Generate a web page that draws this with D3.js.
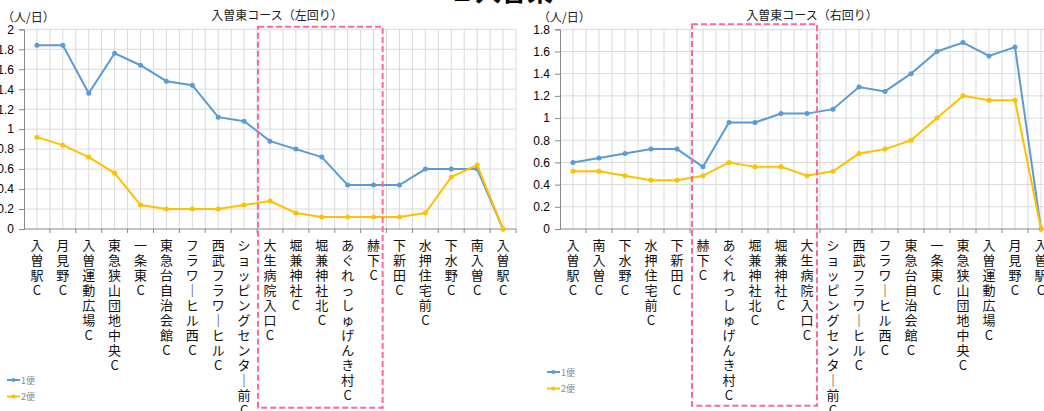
<!DOCTYPE html>
<html>
<head>
<meta charset="utf-8">
<script src="https://cdn.jsdelivr.net/npm/d3@7"></script>
<style>
  body { margin: 0; background: #fff; }
  svg { display: block; font-family: "Liberation Sans", "Noto Sans CJK JP", sans-serif; }
</style>
</head>
<body>
<script>
  // data (人/日)
  var leftStops = ["入曽駅C", "月見野C", "入曽運動広場C", "東急狭山団地中央C", "一条東C", "東急台自治会館C",
    "フラワーヒル西C", "西武フラワーヒルC", "ショッピングセンター前C", "大生病院入口C", "堀兼神社C",
    "堀兼神社北C", "あぐれっしゅげんき村C", "赫下C", "下新田C", "水押住宅前C", "下水野C", "南入曽C", "入曽駅C"];
  var left1 = [1.84, 1.84, 1.36, 1.76, 1.64, 1.48, 1.44, 1.12, 1.08, 0.88, 0.80, 0.72, 0.44, 0.44, 0.44, 0.60, 0.60, 0.60, 0];
  var left2 = [0.92, 0.84, 0.72, 0.56, 0.24, 0.20, 0.20, 0.20, 0.24, 0.28, 0.16, 0.12, 0.12, 0.12, 0.12, 0.16, 0.52, 0.64, 0];

  var rightStops = ["入曽駅C", "南入曽C", "下水野C", "水押住宅前C", "下新田C", "赫下C", "あぐれっしゅげんき村C",
    "堀兼神社北C", "堀兼神社C", "大生病院入口C", "ショッピングセンター前C", "西武フラワーヒルC", "フラワーヒル西C",
    "東急台自治会館C", "一条東C", "東急狭山団地中央C", "入曽運動広場C", "月見野C", "入曽駅C"];
  var right1 = [0.60, 0.64, 0.68, 0.72, 0.72, 0.56, 0.96, 0.96, 1.04, 1.04, 1.08, 1.28, 1.24, 1.40, 1.60, 1.68, 1.56, 1.64, 0];
  var right2 = [0.52, 0.52, 0.48, 0.44, 0.44, 0.48, 0.60, 0.56, 0.56, 0.48, 0.52, 0.68, 0.72, 0.80, 1.00, 1.20, 1.16, 1.16, 0];

  var seriesNames = ["1便", "2便"];
  var colors = ["#5B9BD5", "#FFC000"];

  var w = 1044, h = 411;
  var svg = d3.select("body").append("svg").attr("width", w).attr("height", h);

  // page title, mostly cut off at the top
  svg.append("text")
    .attr("x", 501).attr("y", 0.5)
    .attr("text-anchor", "middle")
    .attr("font-size", 26).attr("font-weight", "bold")
    .attr("fill", "#000")
    .text("２入曽東");

  function drawChart(o) {
    var g = svg.append("g");
    var n = o.stops.length;
    var x = d3.scaleBand().domain(d3.range(n)).range([o.x0, o.x1]);
    var y = d3.scaleLinear().domain([0, o.yMax]).range([229, 29.3]);
    var bw = x.bandwidth();
    var ticks = d3.range(0, Math.round(o.yMax / 0.2) + 1).map(function (i) { return +(i * 0.2).toFixed(1); });

    // gridlines
    g.selectAll(".hg").data(ticks.slice(1)).enter().append("line")
      .attr("x1", o.x0).attr("x2", o.x1)
      .attr("y1", function (d) { return y(d); }).attr("y2", function (d) { return y(d); })
      .attr("stroke", "#d9d9d9").attr("stroke-width", 1);
    var vlines = d3.range(1, n * 2 + 1).map(function (i) { return o.x0 + i * bw / 2; });
    g.selectAll(".vg").data(vlines).enter().append("line")
      .attr("x1", function (d) { return d; }).attr("x2", function (d) { return d; })
      .attr("y1", y(o.yMax)).attr("y2", y(0))
      .attr("stroke", "#d9d9d9").attr("stroke-width", 1);

    // y axis
    var yAxis = d3.axisLeft(y).tickValues(ticks).tickSize(5).tickPadding(5)
      .tickFormat(function (d) { return String(+d.toFixed(1)); });
    g.append("g").attr("transform", "translate(" + o.x0 + ",0)").call(yAxis)
      .call(function (a) {
        a.select(".domain").attr("stroke", "#888");
        a.selectAll(".tick line").attr("stroke", "#888");
        a.selectAll(".tick text").attr("font-size", 12).attr("fill", "#000")
          .attr("font-family", "Liberation Sans, sans-serif");
      });

    // x axis with ticks on band edges
    g.append("line").attr("x1", o.x0).attr("x2", o.x1).attr("y1", y(0)).attr("y2", y(0))
      .attr("stroke", "#888");
    g.selectAll(".xt").data(d3.range(1, n + 1)).enter().append("line")
      .attr("x1", function (i) { return x(0) + i * bw; }).attr("x2", function (i) { return x(0) + i * bw; })
      .attr("y1", y(0)).attr("y2", y(0) + 4)
      .attr("stroke", "#888");

    // vertical stacked labels
    var labels = g.selectAll(".xl").data(o.stops).enter().append("text")
      .attr("text-anchor", "middle")
      .attr("font-size", 13)
      .attr("fill", "#111")
      .attr("font-family", "Noto Sans CJK JP, sans-serif");
    labels.each(function (d, i) {
      var t = d3.select(this);
      Array.from(d).forEach(function (ch, k) {
        t.append("tspan")
          .attr("x", x(i) + bw / 2)
          .attr("y", 250 + k * 15)
          .text(ch === "ー" ? "｜" : ch);
      });
    });

    // lines
    var line = d3.line()
      .x(function (d, i) { return x(i) + bw / 2; })
      .y(function (d) { return y(d); });
    o.series.forEach(function (s, si) {
      g.append("path").datum(s)
        .attr("d", line)
        .attr("fill", "none")
        .attr("stroke", colors[si]).attr("stroke-width", 2);
      g.selectAll(".pt" + si).data(s).enter().append("circle")
        .attr("cx", function (d, i) { return x(i) + bw / 2; })
        .attr("cy", function (d) { return y(d); })
        .attr("r", 2.5)
        .attr("fill", colors[si]);
    });

    // titles
    g.append("text").attr("x", o.titleX).attr("y", 20)
      .attr("text-anchor", "middle").attr("font-size", 12).attr("fill", "#222")
      .attr("font-family", "Noto Sans CJK JP, sans-serif")
      .text(o.title);
    g.append("text").attr("x", o.unitX).attr("y", 22)
      .attr("font-size", 12).attr("fill", "#222")
      .attr("font-family", "Noto Sans CJK JP, sans-serif")
      .text("（人/日）");

    // highlighted section
    var bx1 = x(o.boxFrom) + o.boxPad[0];
    var bx2 = x(o.boxTo) + o.boxPad[1];
    g.append("rect")
      .attr("x", bx1).attr("y", o.boxTop)
      .attr("width", bx2 - bx1).attr("height", o.boxBottom - o.boxTop)
      .attr("fill", "none")
      .attr("stroke", "#FF6699").attr("stroke-width", 2)
      .attr("stroke-dasharray", "6,3");

    // legend
    seriesNames.forEach(function (name, si) {
      var ly = o.legendY + si * 16.5;
      g.append("line").attr("x1", o.legendX).attr("x2", o.legendX + 13)
        .attr("y1", ly).attr("y2", ly).attr("stroke", colors[si]).attr("stroke-width", 2);
      g.append("circle").attr("cx", o.legendX + 6.5).attr("cy", ly).attr("r", 2).attr("fill", colors[si]);
      g.append("text").attr("x", o.legendX + 14).attr("y", ly + 3.5)
        .attr("font-size", 9).attr("fill", "#888")
        .attr("font-family", "Noto Sans CJK JP, sans-serif")
        .text(name);
    });
  }

  drawChart({
    stops: leftStops, series: [left1, left2], yMax: 2,
    x0: 24, x1: 516, title: "入曽東コース（左回り）", titleX: 277, unitX: 2,
    boxFrom: 9, boxTo: 13, boxPad: [1, 22], boxTop: 26.7, boxBottom: 407.7,
    legendX: 7, legendY: 380
  });
  drawChart({
    stops: rightStops, series: [right1, right2], yMax: 1.8,
    x0: 560, x1: 1054, title: "入曽東コース（右回り）", titleX: 812, unitX: 538,
    boxFrom: 5, boxTo: 9, boxPad: [2, 23], boxTop: 24.3, boxBottom: 405.7,
    legendX: 547, legendY: 372
  });
</script>
</body>
</html>
